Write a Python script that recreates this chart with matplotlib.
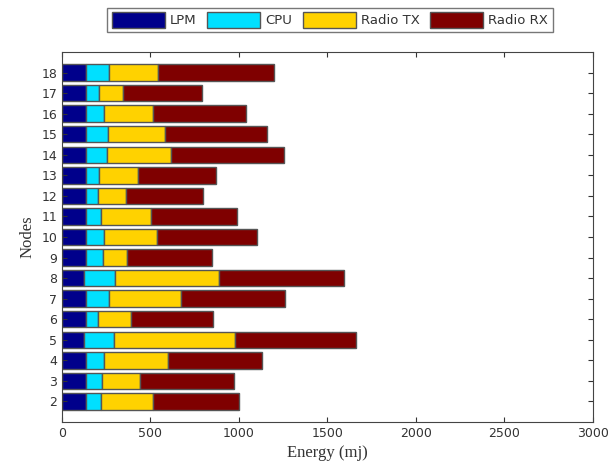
import matplotlib
matplotlib.use("Agg")
import matplotlib.pyplot as plt
import numpy as np
from matplotlib.patches import Patch

nodes = [2, 3, 4, 5, 6, 7, 8, 9, 10, 11, 12, 13, 14, 15, 16, 17, 18]
lpm = [135, 135, 135, 126, 135, 135, 126, 135, 135, 135, 135, 135, 135, 135, 135, 135, 135]
cpu = [85, 89, 104, 170, 70, 131, 175, 99, 100, 85, 70, 74, 119, 127, 104, 74, 132]
radio_tx = [296, 218, 358, 681, 183, 406, 586, 135, 303, 281, 155, 219, 362, 320, 277, 134, 277]
radio_rx = [484, 530, 531, 684, 467, 588, 704, 477, 565, 489, 435, 440, 638, 578, 524, 446, 654]

series = [("LPM", lpm, "#00008B"), ("CPU", cpu, "#00E0FF"),
          ("Radio TX", radio_tx, "#FFD200"), ("Radio RX", radio_rx, "#7F0000")]

fig = plt.figure(figsize=(6.08, 4.74), dpi=100)
ax = fig.add_axes([0.102, 0.1097, 0.873, 0.7806])

left = np.zeros(len(nodes))
handles = []
for name, vals, col in series:
    v = np.array(vals, dtype=float)
    ax.barh(nodes, v, left=left, height=0.8, color=col, edgecolor="#555555", linewidth=1.0)
    left += v
    handles.append(Patch(facecolor=col, edgecolor="#555555", label=name))

ax.set_xlim(0, 3000)
ax.set_ylim(1, 19)
ax.set_xticks(np.arange(0, 3001, 500))
ax.set_yticks(nodes)
ax.tick_params(direction="in", top=True, right=True, labelsize=9, colors="#333333")
for s in ax.spines.values():
    s.set_color("#444444")
ax.set_xlabel("Energy (mj)", family="Liberation Serif", fontsize=12, color="#333333")
ax.set_ylabel("Nodes", family="Liberation Serif", fontsize=12, color="#333333")

leg = fig.legend(handles=handles, loc="center", bbox_to_anchor=(0.543, 0.958), ncol=4,
                 fontsize=9.5, frameon=True, fancybox=False, edgecolor="#555555",
                 handlelength=4.0, handleheight=1.4, columnspacing=0.8, handletextpad=0.4,
                 borderpad=0.35)
for t in leg.get_texts():
    t.set_color("#333333")

fig.savefig("out.png", dpi=100)
